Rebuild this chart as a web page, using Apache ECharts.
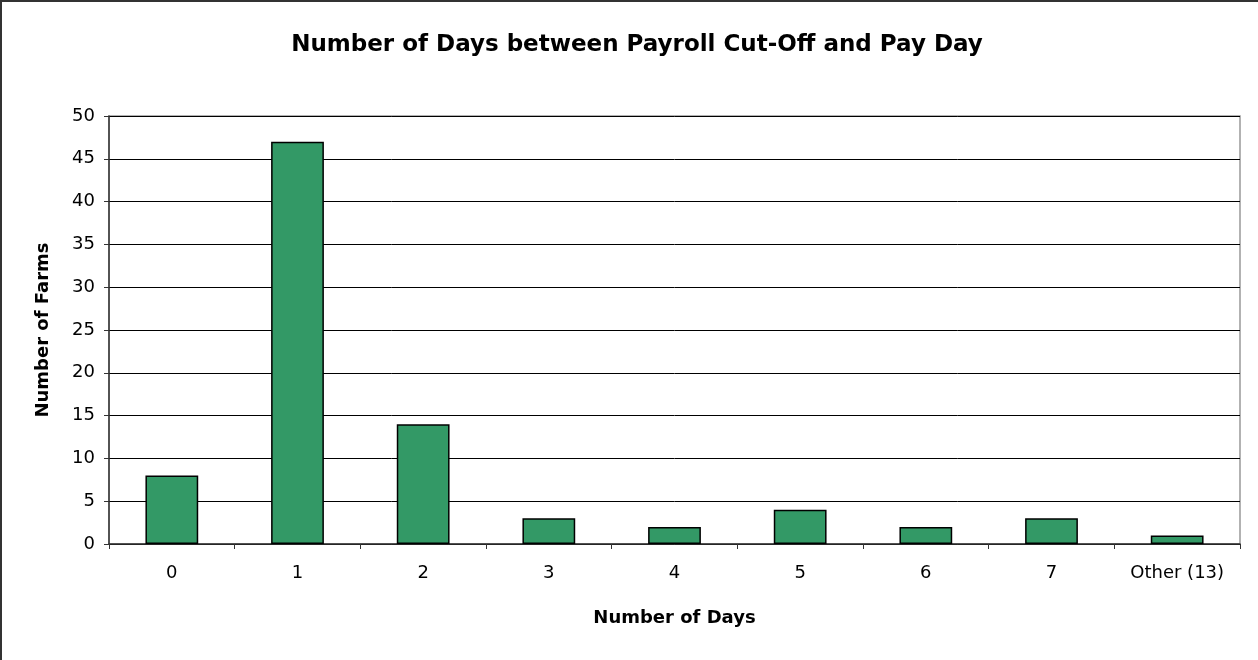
<!DOCTYPE html>
<html>
<head>
<meta charset="utf-8">
<script src="https://cdn.jsdelivr.net/npm/echarts@6/dist/echarts.min.js"></script>
<style>
  html, body { margin: 0; padding: 0; background: #fff; }
  #chart { width: 1258px; height: 660px; }
</style>
</head>
<body>
<div id="chart"></div>
<script>
// data
const categories = ["0", "1", "2", "3", "4", "5", "6", "7", "Other (13)"]
const farmCounts = [8, 47, 14, 3, 2, 4, 2, 3, 1]

const myChart = echarts.init(document.getElementById("chart"))
// the reference text is wide, DejaVu fits it better than Arial
const font = "DejaVu Sans, sans-serif"

const option = {
  animation: false,
  backgroundColor: "#fff",
  textStyle: { fontFamily: font },
  title: {
    text: "Number of Days between Payroll Cut-Off and Pay Day",
    left: 632,
    top: 29,
    textAlign: "center",
    textStyle: { fontSize: 23, fontWeight: "bold", color: "#000", fontFamily: font }
  },
  // outer frame, only left and top edges show
  graphic: [
    { type: "line", shape: { x1: 1, y1: 0, x2: 1, y2: 660 }, style: { stroke: "#333", lineWidth: 2 } },
    { type: "line", shape: { x1: 0, y1: 1, x2: 1258, y2: 1 }, style: { stroke: "#333", lineWidth: 2 } }
  ],
  grid: {
    left: 109,
    right: 18,
    top: 116,
    bottom: 116,
    show: true,
    borderColor: "#999",
    borderWidth: 1.5
  },
  xAxis: {
    type: "category",
    data: categories,
    name: "Number of Days",
    nameLocation: "middle",
    nameGap: 65,
    nameTextStyle: { fontSize: 18, fontWeight: "bold", color: "#000" },
    axisLine: { show: true, lineStyle: { color: "#333", width: 1.5 } },
    axisTick: { show: true, alignWithLabel: false, length: 5, lineStyle: { color: "#333" } },
    axisLabel: { fontSize: 18, color: "#000", margin: 20 },
    splitLine: { show: false }
  },
  yAxis: {
    type: "value",
    min: 0,
    max: 50,
    interval: 5,
    name: "Number of Farms",
    nameLocation: "middle",
    nameGap: 57,
    nameRotate: 90,
    nameTextStyle: { fontSize: 18, fontWeight: "bold", color: "#000" },
    axisLine: { show: true, lineStyle: { color: "#333", width: 1.5 } },
    axisTick: { show: true, length: 5, lineStyle: { color: "#333" } },
    axisLabel: { fontSize: 18, color: "#000", margin: 14 },
    splitLine: { show: true, lineStyle: { color: "#000", width: 1 } }
  },
  series: [
    {
      type: "bar",
      data: farmCounts,
      barCategoryGap: "58%",
      itemStyle: {
        color: "#339966",
        borderColor: "#000",
        borderWidth: 1.5
      }
    }
  ]
}
myChart.setOption(option)
</script>
</body>
</html>
